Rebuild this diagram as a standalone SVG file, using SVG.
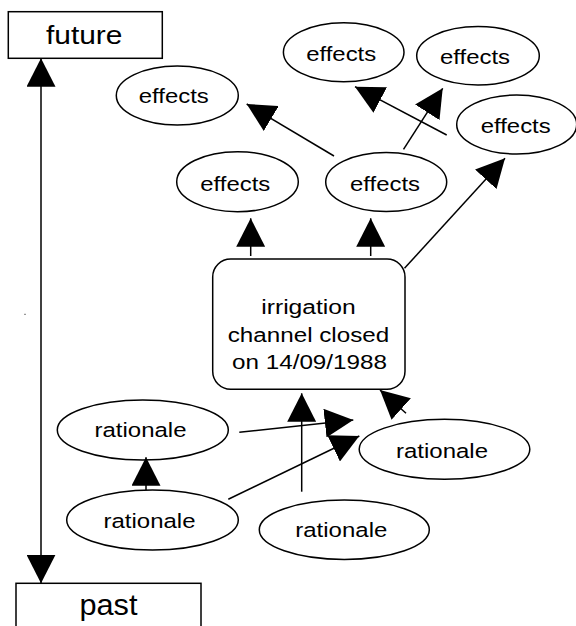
<svg xmlns="http://www.w3.org/2000/svg" width="576" height="626" viewBox="0 0 576 626">
<style>
  .shape { fill: #fff; stroke: #000; stroke-width: 1.5; }
  .lbl { font-family: "Liberation Sans", Arial, sans-serif; fill: #000; text-anchor: middle; lengthAdjust: spacingAndGlyphs; }
  .conn line { stroke: #000; stroke-width: 1.5; marker-end: url(#ah); }
</style>
<defs>
  <marker id="ah" markerUnits="userSpaceOnUse" viewBox="0 0 28.5 29" markerWidth="28.5" markerHeight="29" refX="28.5" refY="14.5" orient="auto-start-reverse">
    <path d="M0,0 L28.5,14.5 L0,29 z" fill="#000"/>
  </marker>
</defs>
<rect width="576" height="626" fill="#fff"/>

<g id="future">
  <rect class="shape" x="8.3" y="11.7" width="154" height="46.6"/>
  <text class="lbl" x="84.2" y="44.3" font-size="25" textLength="76.5" lengthAdjust="spacingAndGlyphs">future</text>
</g>
<g id="past">
  <rect class="shape" x="16" y="583.3" width="185" height="60"/>
  <text class="lbl" x="108.5" y="615" font-size="30" textLength="58" lengthAdjust="spacingAndGlyphs">past</text>
</g>

<g id="event">
  <rect class="shape" x="212.7" y="259" width="192.3" height="130.3" rx="18" ry="18"/>
  <text class="lbl" x="308.5" y="314" font-size="20" textLength="94.5" lengthAdjust="spacingAndGlyphs">irrigation</text>
  <text class="lbl" x="308.5" y="341.7" font-size="20" textLength="161.5" lengthAdjust="spacingAndGlyphs">channel closed</text>
  <text class="lbl" x="309.5" y="369.3" font-size="20" textLength="155" lengthAdjust="spacingAndGlyphs">on 14/09/1988</text>
</g>

<g id="effects1">
  <ellipse class="shape" cx="177.3" cy="95.5" rx="61" ry="29.5"/>
  <text class="lbl" x="173.8" y="103.3" font-size="21" textLength="70" lengthAdjust="spacingAndGlyphs">effects</text>
</g>
<g id="effects2">
  <ellipse class="shape" cx="343.7" cy="52.2" rx="60.3" ry="29.5"/>
  <text class="lbl" x="341.2" y="61" font-size="21" textLength="70" lengthAdjust="spacingAndGlyphs">effects</text>
</g>
<g id="effects3">
  <ellipse class="shape" cx="478" cy="55.8" rx="61.3" ry="29.2"/>
  <text class="lbl" x="475" y="64" font-size="21" textLength="70" lengthAdjust="spacingAndGlyphs">effects</text>
</g>
<g id="effects4">
  <ellipse class="shape" cx="516.7" cy="124.5" rx="60" ry="29.5"/>
  <text class="lbl" x="515.7" y="132.7" font-size="21" textLength="70" lengthAdjust="spacingAndGlyphs">effects</text>
</g>
<g id="effects5">
  <ellipse class="shape" cx="237.5" cy="181.7" rx="60.8" ry="30"/>
  <text class="lbl" x="235.3" y="190.7" font-size="21" textLength="70" lengthAdjust="spacingAndGlyphs">effects</text>
</g>
<g id="effects6">
  <ellipse class="shape" cx="386.2" cy="182" rx="60.5" ry="29.5"/>
  <text class="lbl" x="385" y="190.7" font-size="21" textLength="70" lengthAdjust="spacingAndGlyphs">effects</text>
</g>

<g id="rationale1">
  <ellipse class="shape" cx="142.8" cy="430" rx="85.5" ry="30"/>
  <text class="lbl" x="140.5" y="437.3" font-size="20.5" textLength="92" lengthAdjust="spacingAndGlyphs">rationale</text>
</g>
<g id="rationale2">
  <ellipse class="shape" cx="152.5" cy="520" rx="85.8" ry="30"/>
  <text class="lbl" x="149.5" y="527.7" font-size="20.5" textLength="92" lengthAdjust="spacingAndGlyphs">rationale</text>
</g>
<g id="rationale3">
  <ellipse class="shape" cx="344.3" cy="529.7" rx="85" ry="29.7"/>
  <text class="lbl" x="341.3" y="536.7" font-size="20.5" textLength="92" lengthAdjust="spacingAndGlyphs">rationale</text>
</g>
<g id="rationale4">
  <ellipse class="shape" cx="444.5" cy="449.3" rx="85.3" ry="30"/>
  <text class="lbl" x="442" y="457.5" font-size="20.5" textLength="92" lengthAdjust="spacingAndGlyphs">rationale</text>
</g>

<rect x="24.5" y="313.8" width="1" height="1" fill="#000"/>

<g id="connectors" class="conn">
  <line x1="41" y1="583.3" x2="41" y2="58.3" style="marker-start:url(#ah)"/>
  <line x1="250.7" y1="256" x2="250.7" y2="218.3"/>
  <line x1="370.7" y1="256" x2="370.7" y2="218.3"/>
  <line x1="404.5" y1="268.3" x2="505" y2="158.3"/>
  <line x1="334" y1="156" x2="246.7" y2="104"/>
  <line x1="403.5" y1="149.3" x2="442.7" y2="88.3"/>
  <line x1="446.7" y1="135" x2="355" y2="86.7"/>
  <line x1="301.7" y1="491.7" x2="301.7" y2="393.3"/>
  <line x1="146" y1="490" x2="146" y2="457.3"/>
  <line x1="239.3" y1="432.3" x2="353.3" y2="420"/>
  <line x1="228.3" y1="499.3" x2="359.3" y2="436"/>
  <line x1="406" y1="413.3" x2="380" y2="390"/>
</g>
</svg>
